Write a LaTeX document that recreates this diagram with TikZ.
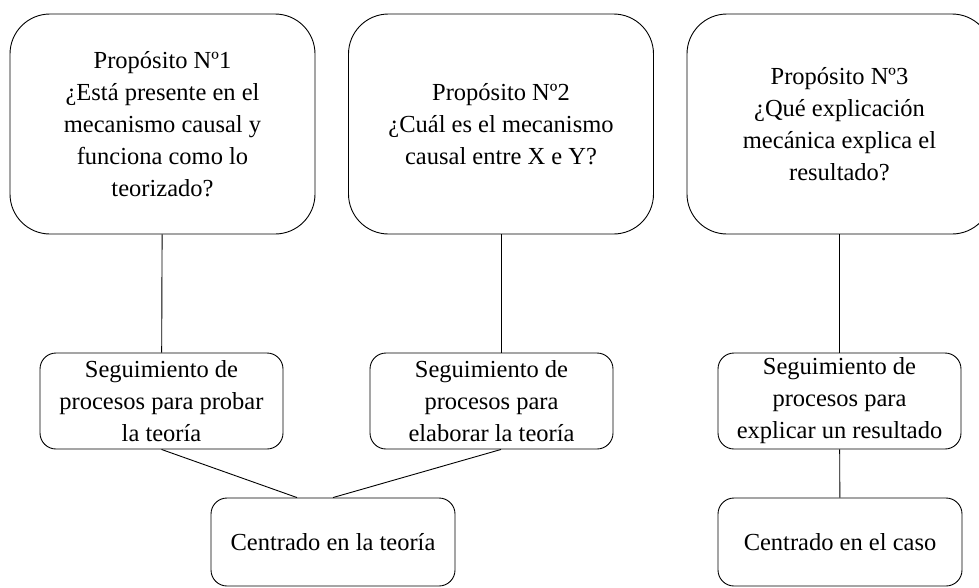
\documentclass[tikz,border=0pt]{standalone}
\usepackage{fontspec}
\setmainfont{Liberation Serif}
\usetikzlibrary{positioning}

\tikzset{
  bigbox/.style={draw, rounded corners=40pt, minimum width=305pt, minimum height=220pt, align=center, inner sep=2pt},
  midbox/.style={draw, rounded corners=16pt, minimum width=243pt, minimum height=96pt, align=center, inner sep=1pt},
  endbox/.style={draw, rounded corners=16pt, minimum width=244pt, minimum height=88pt, align=center},
  link/.style={draw, line width=0.9pt}
}

\begin{document}
\begin{tikzpicture}[x=1pt, y=-1pt, line width=0.9pt, font=\fontsize{24.5}{32}\selectfont]
    \useasboundingbox (0,0) rectangle (979,587);
    % Purposes
    \node[bigbox] (p1) at (162.5,124) {Propósito Nº1\\¿Está presente en el\\mecanismo causal y\\funciona como lo\\teorizado?};
    \node[bigbox] (p2) at (501,124) {Propósito Nº2\\¿Cuál es el mecanismo\\causal entre X e Y?};
    \node[bigbox] (p3) at (839.5,124) {Propósito Nº3\\¿Qué explicación\\mecánica explica el\\resultado?};
    % Process tracing variants
    \node[midbox] (s1) at (161.5,401) {Seguimiento de\\procesos para probar\\la teoría};
    \node[midbox] (s2) at (491.5,401) {Seguimiento de\\procesos para\\elaborar la teoría};
    \node[midbox] (s3) at (839.5,401) {Seguimiento de\\procesos para\\explicar un resultado};
    % Focus
    \node[endbox] (t1) at (333,542) {Centrado en la teoría};
    \node[endbox] (t2) at (840,542) {Centrado en el caso};
    % Connectors
    \draw[link] (p1) -- (s1);
    \draw[link] (p2.south) -- (p2.south |- s2.north);
    \draw[link] (p3) -- (s3);
    \draw[link] (s1.south) -- ([xshift=-36]t1.north);
    \draw[link] (p2.south |- s2.south) -- (t1.north);
    \draw[link] (s3) -- (t2);
\end{tikzpicture}
\end{document}
